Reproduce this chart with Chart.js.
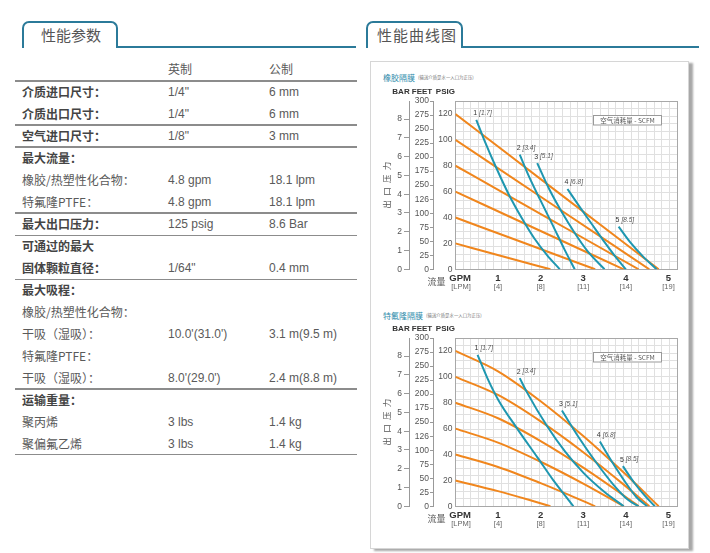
<!DOCTYPE html>
<html>
<head>
<meta charset="utf-8">
<script src="https://cdn.jsdelivr.net/npm/chart.js@4.4.0/dist/chart.umd.min.js"></script>
<style>
    body {
        margin: 0;
        width: 710px;
        height: 553px;
        background: #fff;
        position: relative;
        overflow: hidden;
        font-family: Arial, "Liberation Sans", "Noto Sans CJK SC", sans-serif;
    }
    .tab {
        position: absolute;
        top: 21px;
        height: 27px;
        border: 2px solid #2b7a99;
        border-bottom: none;
        border-radius: 7px 7px 0 0;
        box-sizing: border-box;
        background: #fff;
        font-family: "Noto Sans CJK SC", sans-serif;
        font-size: 15px;
        color: #555;
        line-height: 24px;
    }
    .tabline {
        position: absolute;
        top: 46px;
        height: 2px;
        background: #2b7a99;
    }
    .row {
        position: absolute;
        left: 0;
        width: 360px;
        height: 22px;
        line-height: 22px;
        font-size: 12px;
        color: #5a5a5a;
    }
    .row span { position: absolute; white-space: nowrap; }
    .row .c1 { left: 22px; font-family: "Noto Sans CJK SC", sans-serif; }
    .row .c2 { left: 168px; }
    .row .c3 { left: 269px; }
    .row.head .c1 { font-weight: bold; color: #444; }
    .rule {
        position: absolute;
        left: 15px;
        width: 342px;
        height: 1.5px;
        background: #8c8c8c;
    }
    .panel {
        position: absolute;
        left: 370px;
        top: 61px;
        width: 317px;
        height: 486px;
        border: 1px solid #d6d6d6;
        box-shadow: 4px 2px 2px #a8a8a8;
        background: #fff;
    }
    .ctitle {
        position: absolute;
        left: 383px;
        white-space: nowrap;
        font-family: "Noto Sans CJK SC", sans-serif;
        font-size: 8px;
        color: #2f8cab;
    }
    .ctitle small {
        display: inline-block;
        font-size: 8px;
        color: #777;
        transform: scale(0.55);
        transform-origin: left center;
        margin-left: 3px;
    }
    .chartbox { position: absolute; left: 375px; width: 310px; height: 214px; }
</style>
</head>
<body>

<div class="tab" style="left:22px;width:96px;"><span style="position:absolute;left:17px;">性能参数</span></div>
<div class="tabline" style="left:116px;width:240px;"></div>
<div class="tab" style="left:366px;width:97px;"><span style="position:absolute;left:9px;letter-spacing:1px;">性能曲线图</span></div>
<div class="tabline" style="left:461px;width:238px;"></div>

<div id="spec"></div>

<div class="panel"></div>
<div class="ctitle" style="top:72px;">橡胶隔膜<small>(输送介质是水一入口为正压)</small></div>
<div class="chartbox" style="top:84px;"><canvas id="rubberChart" width="310" height="214"></canvas></div>
<div class="ctitle" style="top:310px;">特氟隆隔膜<small>(输送介质是水一入口为正压)</small></div>
<div class="chartbox" style="top:321px;"><canvas id="ptfeChart" width="310" height="214"></canvas></div>

<script>
// Axis labels (leading en-spaces nudge the unit labels right of the origin)
const gpmLabels = ['\u2002\u2002GPM', '1', '2', '3', '4', '5'];
const lpmLabels = ['\u2002\u2002\u2002[LPM]', '[4]', '[8]', '[11]', '[14]', '[19]'];
const psigLabels = ['0', '20', '40', '60', '80', '100', '120'];
const feetLabels = ['0', '25', '50', '75', '100', '126', '250', '175', '200', '225', '250', '275', '300'];
const barLabels = ['0', '1', '2', '3', '4', '5', '6', '7', '8'];

// Air inlet pressure lines (psig) and air consumption curves (SCFM [Nm3/h])
const airPressures = [120, 100, 80, 60, 40, 20];
const scfmLabels = ['1', '2', '3', '4', '5'];
const nm3Labels = ['[1.7]', '[3.4]', '[5.1]', '[6.8]', '[8.5]'];

// 橡胶隔膜 - [gpm, psig]
const rubberAirLines = [
    [[0, 120], [2.4, 59.6], [4.77, 0]],
    [[0, 100], [2.3, 49.5], [4.55, 0]],
    [[0, 80], [2.15, 40], [4.3, 0]],
    [[0, 60], [2.0, 29.6], [3.95, 0]],
    [[0, 40], [1.65, 19.9], [3.28, 0]],
    [[0, 20], [1.1, 10.1], [2.23, 0]]
];
const rubberAirCurves = [
    [[0.49, 115.5], [0.7, 98], [0.95, 79], [1.25, 58], [1.55, 40], [1.85, 24], [2.15, 11], [2.45, 0]],
    [[1.51, 88.5], [1.75, 70], [2.0, 53], [2.3, 33], [2.55, 16], [2.8, 0]],
    [[1.92, 82], [2.2, 62], [2.5, 44], [2.8, 28], [3.1, 14], [3.5, 0]],
    [[2.63, 62], [2.9, 49], [3.2, 35], [3.5, 21], [3.75, 10], [4.0, 0]],
    [[3.83, 33], [4.1, 21], [4.4, 10], [4.72, 0]]
];

// 特氟隆隔膜 - [gpm, psig]
const ptfeAirLines = [
    [[0, 120], [1, 104.3], [2, 81.2], [3, 54.3], [4, 24.5], [4.77, 0]],
    [[0, 100], [1, 86], [2, 65.6], [3, 41.8], [4, 15.4], [4.55, 0]],
    [[0, 80], [1, 68], [2, 50.4], [3, 29.9], [4, 7.2], [4.3, 0]],
    [[0, 60], [1, 49.2], [2, 34.4], [3, 17.5], [3.95, 0]],
    [[0, 40], [1, 30.4], [2, 17.9], [2.7, 8.3], [3.28, 0]],
    [[0, 20], [1, 11.7], [1.7, 5.2], [2.23, 0]]
];
const ptfeAirCurves = [
    [[0.52, 117], [0.75, 99], [1.01, 82], [1.45, 60], [1.92, 38], [2.3, 20], [2.58, 8], [2.77, 0]],
    [[1.51, 99], [1.68, 88], [2.15, 62], [2.58, 42], [3.0, 26], [3.5, 11], [3.95, 0]],
    [[2.5, 74], [2.9, 53], [3.3, 34], [3.7, 17], [4.05, 5], [4.3, 0]],
    [[3.39, 50], [3.7, 33], [4.0, 18], [4.25, 7], [4.5, 0]],
    [[3.93, 31], [4.2, 18], [4.45, 8], [4.68, 0]]
];

// Spec table rows: [label, imperial, metric, isHeading]
const specRows = [
    ['', '英制', '公制', false],
    ['介质进口尺寸：', '1/4"', '6 mm', true],
    ['介质出口尺寸：', '1/4"', '6 mm', true],
    ['空气进口尺寸：', '1/8"', '3 mm', true],
    ['最大流量：', '', '', true],
    ['橡胶/热塑性化合物：', '4.8 gpm', '18.1 lpm', false],
    ['特氟隆PTFE：', '4.8 gpm', '18.1 lpm', false],
    ['最大出口压力：', '125 psig', '8.6 Bar', true],
    ['可通过的最大', '', '', true],
    ['固体颗粒直径：', '1/64"', '0.4 mm', true],
    ['最大吸程：', '', '', true],
    ['橡胶/热塑性化合物：', '', '', false],
    ['干吸（湿吸）：', "10.0'(31.0')", '3.1 m(9.5 m)', false],
    ['特氟隆PTFE：', '', '', false],
    ['干吸（湿吸）：', "8.0'(29.0')", '2.4 m(8.8 m)', false],
    ['运输重量：', '', '', true],
    ['聚丙烯', '3 lbs', '1.4 kg', false],
    ['聚偏氟乙烯', '3 lbs', '1.4 kg', false]
];
const specRules = [81, 125, 147, 213, 235.5, 279.5, 389, 454.5];

function buildSpecTable() {
    const host = document.getElementById('spec');
    let html = '';
    specRows.forEach((r, i) => {
        const top = 59 + i * 22;
        html += `<div class="row${r[3] ? ' head' : ''}" style="top:${top}px">` +
            `<span class="c1">${r[0]}</span><span class="c2">${r[1]}</span><span class="c3">${r[2]}</span></div>`;
    });
    specRules.forEach(y => {
        html += `<div class="rule" style="top:${y - 0.75}px"></div>`;
    });
    host.innerHTML = html;
}

const TEAL = '#1f97b0';
const ORANGE = '#f0861d';
const NARROW = '"Liberation Sans Narrow", "Liberation Sans", Arial, sans-serif';
const CJK = '"Noto Sans CJK SC", sans-serif';
const PSIG_MAX = 130;

Chart.defaults.font.family = NARROW;

// Headings, curve labels, legend box
const chartDecor = {
    id: 'chartDecor',
    afterDatasetsDraw(chart, args, opts) {
        const {ctx, chartArea, scales} = chart;
        ctx.save();
        ctx.textBaseline = 'middle';
        ctx.textAlign = 'center';
        ctx.fillStyle = '#333';
        ctx.font = 'bold 8px ' + NARROW;
        const headY = chartArea.top - 9;
        ctx.fillText('BAR', scales.yBar.right - 8, headY);
        ctx.fillText('FEET', scales.yFeet.right - 11, headY);
        ctx.fillText('PSIG', scales.y.right - 10, headY);

        ctx.fillStyle = '#555';
        ctx.font = '9px ' + CJK;
        ctx.fillText('流量', chartArea.left - 19, chartArea.bottom + 12.5);

        // legend box
        const bw = 69, bh = 10.5;
        const bx = chartArea.right - 15 - bw, by = chartArea.top + 14;
        ctx.fillStyle = '#fff';
        ctx.fillRect(bx, by, bw, bh);
        ctx.strokeStyle = '#999';
        ctx.lineWidth = 1;
        ctx.strokeRect(bx + 0.5, by + 0.5, bw - 1, bh - 1);
        ctx.fillStyle = '#555';
        ctx.font = '6.5px ' + CJK;
        ctx.fillText('空气消耗量 - SCFM', bx + bw / 2, by + bh / 2 + 0.5);

        // curve labels at the start of every consumption curve
        ctx.textAlign = 'left';
        opts.curves.forEach((pts, i) => {
            const px = scales.x.getPixelForValue(pts[0][0]) - 3;
            const py = scales.y.getPixelForValue(pts[0][1]) - 6.5;
            ctx.fillStyle = '#333';
            ctx.font = '7px ' + NARROW;
            ctx.fillText(scfmLabels[i], px, py);
            const w = ctx.measureText(scfmLabels[i] + ' ').width;
            ctx.fillStyle = '#555';
            ctx.font = 'italic 6.5px ' + NARROW;
            ctx.fillText(nm3Labels[i], px + w, py);
        });
        ctx.restore();
    }
};

function toPoints(pts) {
    return pts.map(p => ({x: p[0], y: p[1]}));
}

function buildDatasets(airLines, airCurves) {
    const ds = [];
    airCurves.forEach((pts, i) => ds.push({
        label: scfmLabels[i] + ' SCFM',
        data: toPoints(pts),
        xAxisID: 'x',
        yAxisID: 'y',
        borderColor: TEAL,
        borderWidth: 2,
        cubicInterpolationMode: 'monotone'
    }));
    airLines.forEach((pts, i) => ds.push({
        label: airPressures[i] + ' psig',
        data: toPoints(pts),
        xAxisID: 'x',
        yAxisID: 'y',
        borderColor: ORANGE,
        borderWidth: 2,
        cubicInterpolationMode: 'monotone'
    }));
    return ds;
}

function fixWidth(w) {
    return scale => { scale.width = w; };
}
function fixHeight(h) {
    return scale => { scale.height = h; };
}

function makeChart(canvasId, airLines, airCurves) {
    const ctx = document.getElementById(canvasId);
    return new Chart(ctx, {
        type: 'scatter',
        data: {datasets: buildDatasets(airLines, airCurves)},
        options: {
            responsive: false,
            animation: false,
            showLine: true,
            elements: {point: {radius: 0}},
            layout: {padding: {top: 17, right: 8, left: 0, bottom: 4}},
            plugins: {
                legend: {display: false},
                tooltip: {enabled: false},
                chartDecor: {curves: airCurves}
            },
            scales: {
                x: {
                    type: 'linear', position: 'bottom', min: 0, max: 5.2,
                    grid: {display: false, drawTicks: false},
                    border: {display: true, color: '#a8a8a8'},
                    ticks: {
                        stepSize: 1, includeBounds: false, autoSkip: false, maxRotation: 0,
                        padding: 3, color: '#333', font: {size: 9.5, weight: 'bold'},
                        callback: v => gpmLabels[v]
                    },
                    afterFit: fixHeight(13)
                },
                x2: {
                    type: 'linear', position: 'bottom', min: 0, max: 5.2,
                    grid: {display: false, drawTicks: false},
                    border: {display: false},
                    ticks: {
                        stepSize: 1, includeBounds: false, autoSkip: false, maxRotation: 0,
                        padding: 0, color: '#666', font: {size: 7.5},
                        callback: v => lpmLabels[v]
                    },
                    afterFit: fixHeight(11.7)
                },
                xGrid: {
                    type: 'linear', position: 'top', min: 0, max: 29,
                    grid: {color: '#e0e0e0', drawTicks: false},
                    border: {display: true, color: '#a8a8a8'},
                    ticks: {display: false, stepSize: 1},
                    afterFit: fixHeight(0)
                },
                yGrid: {
                    type: 'linear', position: 'right', min: 0, max: 22,
                    grid: {color: '#e0e0e0', drawTicks: false},
                    border: {display: true, color: '#a8a8a8'},
                    ticks: {display: false, stepSize: 1},
                    afterFit: fixWidth(0)
                },
                y: {
                    type: 'linear', position: 'left', weight: 0, min: 0, max: PSIG_MAX,
                    grid: {display: false, drawTicks: false},
                    border: {display: true, color: '#a8a8a8'},
                    ticks: {
                        stepSize: 20, includeBounds: false, padding: 3,
                        color: '#555', font: {size: 8.5},
                        callback: (v) => psigLabels[v / 20]
                    },
                    afterFit: fixWidth(22.4)
                },
                yFeet: {
                    type: 'linear', position: 'left', weight: 1, min: 0, max: 300,
                    grid: {display: true, drawOnChartArea: false, tickLength: 3, color: '#999'},
                    border: {display: true, color: '#999'},
                    ticks: {
                        stepSize: 25, padding: 1, color: '#555', font: {size: 8.5},
                        callback: (v) => feetLabels[v / 25]
                    },
                    afterFit: fixWidth(24)
                },
                yBar: {
                    type: 'linear', position: 'left', weight: 2, min: 0, max: PSIG_MAX / 14.5038,
                    grid: {display: true, drawOnChartArea: false, tickLength: 5, color: '#999'},
                    border: {display: true, color: '#999'},
                    ticks: {
                        stepSize: 1, includeBounds: false, padding: 2, color: '#555', font: {size: 8.5},
                        callback: (v) => barLabels[v]
                    },
                    title: {
                        display: true, text: '出\u2002口\u2002压\u2002力', color: '#555',
                        font: {family: CJK, size: 8.5}, padding: {top: 7, bottom: 0}
                    },
                    afterFit: fixWidth(34)
                }
            }
        },
        plugins: [chartDecor]
    });
}

buildSpecTable();
makeChart('rubberChart', rubberAirLines, rubberAirCurves);
makeChart('ptfeChart', ptfeAirLines, ptfeAirCurves);
</script>
</body>
</html>
